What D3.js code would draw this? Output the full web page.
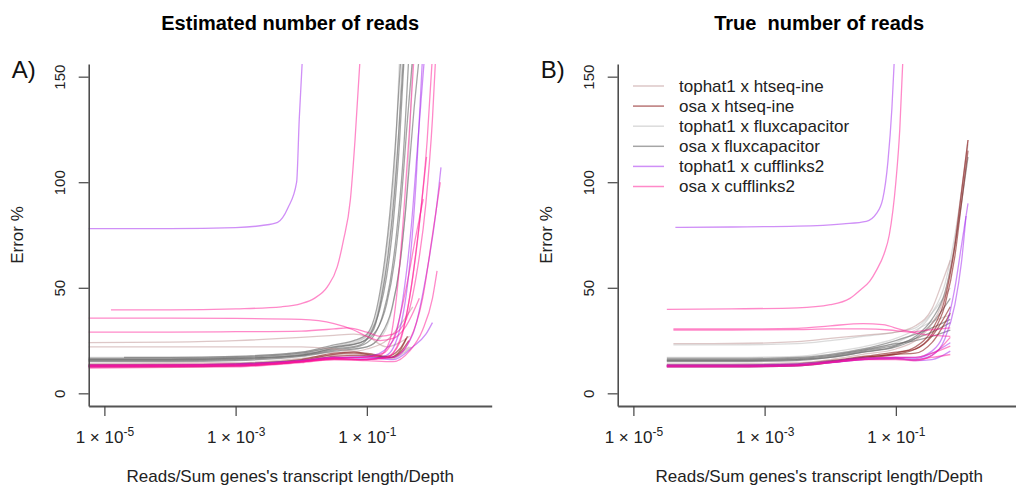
<!DOCTYPE html>
<html>
<head>
<meta charset="utf-8">
<script src="https://cdn.jsdelivr.net/npm/d3@7"></script>
<style>
  body { margin: 0; background: #fff; }
  svg { font-family: "Liberation Sans", Arial, sans-serif; }
</style>
</head>
<body>
<svg id="chart"></svg>
<script>
// curves: [log10(depth), error %] pairs

// --- A) estimated number of reads ---
const estTophatHtseq = [
    [[-5.3,24],[-4,24.3],[-3,25],[-2,26.5],[-1.5,27.5],[-1.2,28],[-1.0,27],[-0.7,22],[-0.5,24],[-0.35,27]],
    [[-5.3,22],[-4,22],[-3,22],[-2,22],[-1.5,21],[-1.2,20],[-0.9,18],[-0.65,17],[-0.5,19],[-0.35,22]],
    [[-5.3,13.5],[-3,14],[-2,16],[-1.5,18],[-1.1,18.5],[-0.8,17],[-0.6,16.5],[-0.45,19],[-0.32,22]],
    [[-5.3,14],[-3,14.5],[-2,16.5],[-1.4,19],[-1.0,21],[-0.7,25],[-0.5,32],[-0.3,41]]
];
const estOsaHtseq = [
    [[-5.3,13],[-4,13],[-3,13.5],[-2,15.5],[-1.5,18.5],[-1.2,19],[-0.9,18],[-0.65,17],[-0.5,20],[-0.38,27]],
    [[-5.3,13.5],[-4,13.5],[-3,14],[-2,16],[-1.5,19],[-1.2,19.5],[-0.9,18.5],[-0.7,17.5],[-0.5,21],[-0.4,26]],
    [[-5.3,12.5],[-4,12.5],[-3,13],[-2,15],[-1.5,17.5],[-1.1,18],[-0.8,17],[-0.6,17],[-0.45,21],[-0.36,25]]
];
const estTophatFlux = [
    [[-5.3,16.5],[-4,16.5],[-3,17],[-2,19],[-1.5,22],[-1.1,25],[-0.9,32],[-0.78,48],[-0.68,72],[-0.58,105],[-0.5,160]],
    [[-5.3,17],[-4,17],[-3,17.5],[-2,19.5],[-1.4,23],[-1.0,27],[-0.85,36],[-0.72,55],[-0.6,85],[-0.52,120],[-0.46,160]],
    [[-5.3,15.5],[-4,15.5],[-3,16],[-2,18],[-1.4,20],[-1.0,22],[-0.75,28],[-0.6,42],[-0.48,65],[-0.38,100],[-0.3,160]]
];
const estOsaFlux = [
    [[-5.3,16],[-4,16],[-3,16.5],[-2,18.5],[-1.5,21],[-1.1,23],[-0.95,28],[-0.8,40],[-0.7,55],[-0.6,80],[-0.5,120],[-0.43,160]],
    [[-5.3,15.5],[-4,15.5],[-3,16],[-2,18],[-1.5,20.5],[-1.1,22.5],[-0.9,27],[-0.75,38],[-0.65,52],[-0.55,75],[-0.45,110],[-0.36,160]],
    [[-5.3,16.5],[-4,16.5],[-3,17],[-2,19],[-1.5,22],[-1.1,24],[-0.85,30],[-0.7,42],[-0.58,62],[-0.48,90],[-0.38,130],[-0.3,160]],
    [[-4.7,17],[-4,17],[-3,17.5],[-2,19.5],[-1.5,23],[-1.2,25],[-1.0,28],[-0.85,40],[-0.75,58],[-0.65,85],[-0.55,125],[-0.48,160]],
    [[-5.3,15],[-4,15],[-3,15.5],[-2,17.5],[-1.5,20],[-1.0,22],[-0.8,27],[-0.62,40],[-0.5,60],[-0.4,90],[-0.28,135],[-0.2,160]],
    [[-5.3,16],[-4,16],[-3,16.5],[-2,18],[-1.5,21.5],[-1.1,24],[-0.9,30],[-0.78,45],[-0.68,65],[-0.58,95],[-0.5,130],[-0.44,160]]
];
const estTophatCuff = [
    [[-5.3,78],[-4,78],[-3,78.5],[-2.6,79.5],[-2.36,81],[-2.2,88],[-2.07,100],[-2.03,130],[-1.98,160]],
    [[-5.3,13],[-4,13],[-3,13.5],[-2,15],[-1.5,17],[-1.0,17],[-0.6,16],[-0.3,22],[-0.1,28],[0.0,33.5]],
    [[-5.3,13.5],[-4,13.5],[-3,14],[-2,15.5],[-1.5,17],[-1.0,16.5],[-0.6,17],[-0.3,28],[-0.1,55],[0.05,85],[0.13,107]],
    [[-5.3,12.5],[-3,13],[-2,15],[-1.5,16.5],[-1.0,16],[-0.7,18],[-0.5,30],[-0.35,60],[-0.25,100],[-0.15,160]],
    [[-5.3,13],[-3,13.5],[-2,15.5],[-1.3,17],[-0.9,18],[-0.6,25],[-0.45,45],[-0.32,80],[-0.22,120],[-0.12,160]]
];
const estOsaCuff = [
    [[-4.9,39.5],[-4,39.5],[-3,40],[-2.3,41],[-2,42.5],[-1.8,45],[-1.6,50.5],[-1.45,60],[-1.36,72],[-1.25,92],[-1.18,120],[-1.1,160]],
    [[-5.3,35.6],[-4,35.6],[-3,35.5],[-2,35],[-1.5,33],[-1.2,30],[-1.0,27],[-0.8,25],[-0.6,26],[-0.4,32],[-0.2,45]],
    [[-5.3,29],[-4,29],[-3,29.2],[-2,29.5],[-1.5,30.5],[-1.3,31],[-1.0,29],[-0.8,27],[-0.6,28],[-0.4,35],[-0.25,55],[-0.1,90],[0.0,130],[0.05,160]],
    [[-5.3,12.5],[-3,13],[-2,15],[-1.5,16.5],[-1.1,17],[-0.8,18],[-0.65,25],[-0.55,45],[-0.45,80],[-0.35,125],[-0.28,160]],
    [[-5.3,13],[-3,13.2],[-2,15],[-1.5,16],[-1.0,16],[-0.7,17],[-0.5,24],[-0.35,45],[-0.2,80],[-0.08,120],[0.0,160]],
    [[-5.3,12],[-3,12.5],[-2,14.5],[-1.5,16],[-1.0,15.5],[-0.6,15],[-0.35,20],[-0.15,30],[0.0,45],[0.07,58]],
    [[-5.3,13],[-3,13.3],[-2,15],[-1.5,16.5],[-1.0,16],[-0.6,17],[-0.35,25],[-0.15,45],[0.0,75],[0.12,100]],
    [[-5.3,12.8],[-3,13],[-2,15],[-1.5,16.5],[-1.1,16],[-0.7,17],[-0.5,25],[-0.35,45],[-0.22,75],[-0.09,112]],
    [[-5.3,13.5],[-3,13.8],[-2,15.5],[-1.5,17],[-1.1,17],[-0.75,19],[-0.55,30],[-0.4,50],[-0.25,75],[-0.14,92]]
];

// --- B) true number of reads ---
const trueTophatHtseq = [
    [[-4.39,23.5],[-3.5,23.6],[-2.5,24.5],[-2,26],[-1.5,27.5],[-1.0,29],[-0.7,32],[-0.45,40],[-0.3,52],[-0.17,63]],
    [[-4.49,14],[-3.5,14],[-2.5,14.5],[-2,16],[-1.5,18.5],[-1.0,21],[-0.7,25],[-0.45,33],[-0.25,47],[-0.1,72],[0.0,96],[0.1,120]]
];
const trueOsaHtseq = [
    [[-4.49,13],[-3.5,13],[-2.5,13.5],[-2,15],[-1.5,17],[-1.0,19],[-0.7,22],[-0.45,30],[-0.25,45],[-0.1,70],[0.0,95],[0.1,120]],
    [[-4.49,12.5],[-3.5,12.5],[-2.5,13],[-2,14.5],[-1.5,16.5],[-1.0,18.5],[-0.7,21],[-0.45,28],[-0.25,42],[-0.1,65],[0.0,90],[0.1,115]],
    [[-4.49,13.5],[-3.5,13.5],[-2.5,14],[-2,15.5],[-1.5,17.5],[-1.0,19.5],[-0.7,21],[-0.45,27],[-0.17,41]],
    [[-4.49,13],[-3.5,13],[-2.5,13.3],[-2,15],[-1.5,17],[-1.0,18.5],[-0.7,19],[-0.45,24],[-0.17,38]]
];
const trueTophatFlux = [
    [[-4.49,16],[-3.5,16],[-2.5,16.5],[-2,18],[-1.5,20.5],[-1.0,24],[-0.7,29],[-0.45,38],[-0.25,52],[-0.1,75],[0.0,95],[0.1,118]],
    [[-4.49,17],[-3.5,17],[-2.5,17.5],[-2,19.5],[-1.5,22],[-1.0,26],[-0.7,30],[-0.45,34],[-0.17,37]],
    [[-4.39,23],[-3.5,23],[-2.5,23.5],[-2,25],[-1.5,27],[-1.0,29],[-0.7,31],[-0.45,38],[-0.17,50]]
];
const trueOsaFlux = [
    [[-4.49,15.5],[-3.5,15.5],[-2.5,16],[-2,17],[-1.5,19.5],[-1.0,22.5],[-0.7,27],[-0.45,35],[-0.25,48],[-0.1,70],[0.0,90],[0.1,112]],
    [[-4.49,15.5],[-3.5,15.5],[-2.5,16],[-2,17.5],[-1.5,20],[-1.0,23],[-0.7,26],[-0.45,29],[-0.17,33.5]],
    [[-4.49,16],[-3.5,16],[-2.5,16.5],[-2,18],[-1.5,20.5],[-1.0,23.5],[-0.7,25],[-0.45,27],[-0.17,30]],
    [[-4.49,15],[-3.5,15],[-2.5,15.5],[-2,17],[-1.5,19.5],[-1.0,22],[-0.7,26],[-0.45,33],[-0.17,45]],
    [[-4.49,16.5],[-3.5,16.5],[-2.5,17],[-2,18.5],[-1.5,21],[-1.0,25],[-0.7,28],[-0.45,31],[-0.17,35]]
];
const trueTophatCuff = [
    [[-4.36,78.6],[-3.5,78.8],[-2.5,79.2],[-1.8,80.3],[-1.45,81.5],[-1.3,85],[-1.2,92],[-1.12,110],[-1.06,135],[-1.02,160]],
    [[-4.49,13],[-3.5,13],[-2.5,13.5],[-2,14.5],[-1.5,16],[-1.0,17],[-0.7,17],[-0.45,20],[-0.25,30],[-0.1,50],[0.0,70],[0.1,90]],
    [[-4.49,12.5],[-3.5,12.5],[-2.5,13],[-2,14.5],[-1.5,16],[-1.0,16.5],[-0.7,16],[-0.45,18],[-0.25,26],[-0.1,42],[0.0,62],[0.07,84]],
    [[-4.49,13],[-3.5,13],[-2.5,13.3],[-2,14.8],[-1.5,16.2],[-1.0,16.5],[-0.7,15.5],[-0.45,16],[-0.17,20]],
    [[-4.49,13.5],[-3.5,13.5],[-2.5,14],[-2,15.2],[-1.5,16.8],[-1.0,17],[-0.7,16.5],[-0.45,19],[-0.17,24]]
];
const trueOsaCuff = [
    [[-4.49,39.8],[-3.5,40],[-2.5,40.5],[-2,42],[-1.7,45],[-1.54,49],[-1.4,53],[-1.29,58.6],[-1.18,66],[-1.1,75],[-1.0,100],[-0.94,125],[-0.89,160]],
    [[-4.39,30.5],[-3.5,30.5],[-2.5,30.8],[-2.0,32],[-1.5,33],[-1.2,32.5],[-0.9,30],[-0.6,28],[-0.17,27]],
    [[-4.39,30],[-3.5,30],[-2.5,30.2],[-2.0,30.5],[-1.5,30.5],[-1.1,30],[-0.8,29],[-0.5,30],[-0.17,31]],
    [[-4.49,12.8],[-3.5,12.8],[-2.5,13.2],[-2,14.5],[-1.5,16],[-1.0,16.5],[-0.7,16],[-0.45,17],[-0.17,18.4]],
    [[-4.49,13.2],[-3.5,13.2],[-2.5,13.5],[-2,15],[-1.5,16.5],[-1.0,17],[-0.7,17],[-0.45,19],[-0.17,22.4]],
    [[-4.49,12.5],[-3.5,12.5],[-2.5,13],[-2,14.5],[-1.5,16],[-1.0,16],[-0.7,15.5],[-0.45,18],[-0.17,26.5]]
];

const legendLabels = ["tophat1 x htseq-ine", "osa x htseq-ine", "tophat1 x fluxcapacitor",
                      "osa x fluxcapacitor", "tophat1 x cufflinks2", "osa x cufflinks2"];
const legendColors = ["rgba(188,143,143,0.5)", "rgba(139,26,26,0.6)", "rgba(190,190,190,0.55)",
                      "rgba(105,105,105,0.6)", "rgba(160,32,240,0.5)", "rgba(255,20,147,0.5)"];
const yTicks = [0, 50, 100, 150];
const xTicks = [-5, -3, -1];
const titles = ["Estimated number of reads", "True  number of reads"];
const tags = ["A)", "B)"];

const W = 1016, H = 492;
const svg = d3.select("#chart").attr("width", W).attr("height", H);

const panels = [
    { left: 88.7, groups: [estTophatHtseq, estOsaHtseq, estTophatFlux, estOsaFlux, estTophatCuff, estOsaCuff] },
    { left: 617.7, groups: [trueTophatHtseq, trueOsaHtseq, trueTophatFlux, trueOsaFlux, trueTophatCuff, trueOsaCuff] }
];
const plotW = 403, plotTop = 64, plotBottom = 406;
// draw order: grey first, then htseq, then cufflinks on top
const drawOrder = [2, 3, 0, 1, 4, 5];

let y = d3.scaleLinear().domain([-6, 156]).range([plotBottom, plotTop]);

panels.forEach((p, i) => {
    let x = d3.scaleLog().domain([Math.pow(10, -5.239), Math.pow(10, 0.903)]).range([p.left, p.left + plotW]);
    let g = svg.append("g");

    g.append("clipPath").attr("id", "clip" + i)
        .append("rect").attr("x", p.left).attr("y", plotTop).attr("width", plotW).attr("height", plotBottom - plotTop);

    let line = d3.line()
        .x(d => x(Math.pow(10, d[0])))
        .y(d => y(d[1]))
        .curve(d3.curveMonotoneX);

    let lines = g.append("g").attr("clip-path", `url(#clip${i})`);
    drawOrder.forEach(k => {
        p.groups[k].forEach(c => {
            lines.append("path").attr("d", line(c))
                .attr("fill", "none")
                .attr("stroke", legendColors[k])
                .attr("stroke-width", 1.3);
        });
    });

    // y axis
    let ay = g.append("g").attr("transform", `translate(${p.left},0)`)
        .call(d3.axisLeft(y).tickValues(yTicks).tickSize(10).tickSizeOuter(0));
    ay.select(".domain").attr("stroke", "#444").attr("stroke-width", 1.5);
    ay.selectAll(".tick line").attr("stroke", "#444").attr("stroke-width", 1.2);
    ay.selectAll(".tick text")
        .attr("transform", "rotate(-90)")
        .attr("text-anchor", "middle")
        .attr("x", 0).attr("y", -24).attr("dy", 0)
        .attr("font-size", 15).attr("fill", "#222");

    // x axis
    let ax = g.append("g").attr("transform", `translate(0,${plotBottom})`)
        .call(d3.axisBottom(x).tickValues(xTicks.map(e => Math.pow(10, e))).tickSize(10).tickSizeOuter(0).tickFormat(""));
    ax.select(".domain").attr("stroke", "#555").attr("stroke-width", 1.8);
    ax.selectAll(".tick line").attr("stroke", "#444").attr("stroke-width", 1.2);
    ax.selectAll(".tick text").each(function(d) {
        let t = d3.select(this).attr("y", 37).attr("dy", 0).attr("font-size", 17).attr("fill", "#222");
        t.append("tspan").text("1 \u00d7 10");
        t.append("tspan").attr("dy", -7).attr("font-size", 12).text(Math.round(Math.log10(d)));
    });

    let cx = p.left + plotW / 2;
    g.append("text").attr("x", cx).attr("y", 30).attr("text-anchor", "middle")
        .attr("font-size", 20).attr("font-weight", "bold")
        .style("white-space", "pre").text(titles[i]);
    g.append("text").attr("x", cx).attr("y", 482).attr("text-anchor", "middle")
        .attr("font-size", 17).attr("fill", "#222").text("Reads/Sum genes's transcript length/Depth");
    g.append("text").attr("transform", `translate(${p.left - 66},${(plotTop + plotBottom) / 2}) rotate(-90)`)
        .attr("text-anchor", "middle").attr("font-size", 17).attr("fill", "#222").text("Error %");
    g.append("text").attr("x", p.left - 77).attr("y", 78)
        .attr("font-size", 24).attr("fill", "#111").text(tags[i]);
});

// legend in panel B
let leg = svg.append("g").attr("transform", "translate(633,86)");
legendLabels.forEach((lab, i) => {
    leg.append("line").attr("x1", 0).attr("x2", 31).attr("y1", i * 20.1).attr("y2", i * 20.1)
        .attr("stroke", legendColors[i]).attr("stroke-width", 1.5);
    leg.append("text").attr("x", 46).attr("y", i * 20.1).attr("dy", "0.35em")
        .attr("font-size", 17).attr("fill", "#222").text(lab);
});
</script>
</body>
</html>
